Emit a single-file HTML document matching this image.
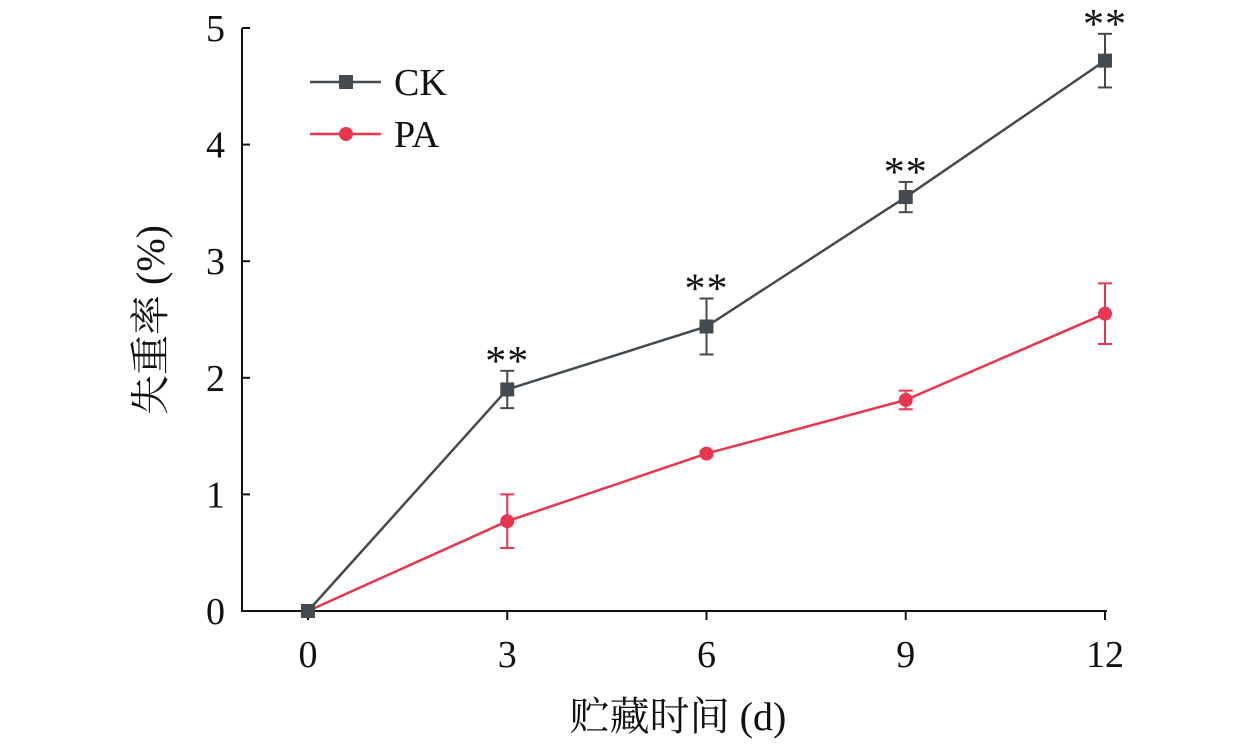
<!DOCTYPE html>
<html><head><meta charset="utf-8"><style>
body{margin:0;background:#fff}
svg text{font-family:"Liberation Serif","Noto Serif CJK SC",serif;fill:#111}
</style></head><body>
<svg width="1260" height="739" viewBox="0 0 1260 739" id="c"></svg>
<script>
const days=[0,3,6,9,12];
const ckVals=[0,1.90,2.44,3.55,4.72];
const ckErr=[0,0.16,0.24,0.13,0.23];
const paVals=[0,0.77,1.35,1.81,2.55];
const paErr=[0,0.23,0.02,0.08,0.26];
const sig=["","**","**","**","**"];
const yTicks=[0,1,2,3,4,5];
const xTicks=[0,3,6,9,12];
const svg=document.getElementById('c');
const NS='http://www.w3.org/2000/svg';
const X=d=>308+d*(1105-308)/12;
const Y=v=>611-v*(611-28)/5;
function mk(t,a,p){const e=document.createElementNS(NS,t);for(const k in a)e.setAttribute(k,a[k]);(p||svg).appendChild(e);return e;}
let ax=mk('g',{});


mk('line',{x1:242,y1:28,x2:242,y2:612,stroke:'#111','stroke-width':2},ax);
mk('line',{x1:241,y1:611,x2:1107,y2:611,stroke:'#111','stroke-width':2},ax);
yTicks.forEach(v=>{
  mk('line',{x1:242,y1:Y(v),x2:250,y2:Y(v),stroke:'#111','stroke-width':2},ax);
  const t=mk('text',{x:225,y:Y(v)+13,'font-size':38,'text-anchor':'end'},ax);t.textContent=v;
  
  
});
xTicks.forEach(v=>{
  mk('line',{x1:X(v),y1:611,x2:X(v),y2:620,stroke:'#111','stroke-width':2},ax);
  const t=mk('text',{x:X(v),y:667,'font-size':38,'text-anchor':'middle'},ax);t.textContent=v;
  
  
});
let xt=mk('text',{x:678,y:730,'font-size':40,'text-anchor':'middle'});xt.textContent='贮藏时间 (d)';


let yt=mk('text',{x:0,y:0,'font-size':40,'text-anchor':'middle',transform:'translate(164,320) rotate(-90)'});yt.textContent='失重率 (%)';


function series(vals,err,col,sq,name){
  const g=mk('g',{});
  
  
  mk('polyline',{points:days.map((d,i)=>X(d)+','+Y(vals[i])).join(' '),fill:'none',stroke:col,'stroke-width':2.5},g);
  days.forEach((d,i)=>{
    if(err[i]>0){
      const x=X(d),y1=Y(vals[i]+err[i]),y2=Y(vals[i]-err[i]);
      mk('line',{x1:x,y1:y1,x2:x,y2:y2,stroke:col,'stroke-width':2},g);
      mk('line',{x1:x-7,y1:y1,x2:x+7,y2:y1,stroke:col,'stroke-width':2},g);
      mk('line',{x1:x-7,y1:y2,x2:x+7,y2:y2,stroke:col,'stroke-width':2},g);
    }
    const m=sq?mk('rect',{x:X(d)-7,y:Y(vals[i])-7,width:14,height:14,fill:col},g):mk('circle',{cx:X(d),cy:Y(vals[i]),r:7,fill:col},g);
    
    
  });
}
series(paVals,paErr,'#e8364f',false,'pa');
series(ckVals,ckErr,'#434b50',true,'ck');
days.forEach((d,i)=>{if(sig[i]){
  const t=mk('text',{x:X(d),y:Y(ckVals[i]+ckErr[i])+4,'font-size':42,'text-anchor':'middle','letter-spacing':1});t.textContent=sig[i];
  
  
}});
const lg=mk('g',{});


mk('line',{x1:310,y1:82,x2:381,y2:82,stroke:'#434b50','stroke-width':2.5},lg);
mk('rect',{x:339,y:75,width:14,height:14,fill:'#434b50'},lg);
let l1=mk('text',{x:394,y:95,'font-size':38},lg);l1.textContent='CK';
mk('line',{x1:310,y1:134,x2:381,y2:134,stroke:'#e8364f','stroke-width':2.5},lg);
mk('circle',{cx:346,cy:134,r:7,fill:'#e8364f'},lg);
let l2=mk('text',{x:394,y:147,'font-size':38},lg);l2.textContent='PA';
</script>
</body></html>
